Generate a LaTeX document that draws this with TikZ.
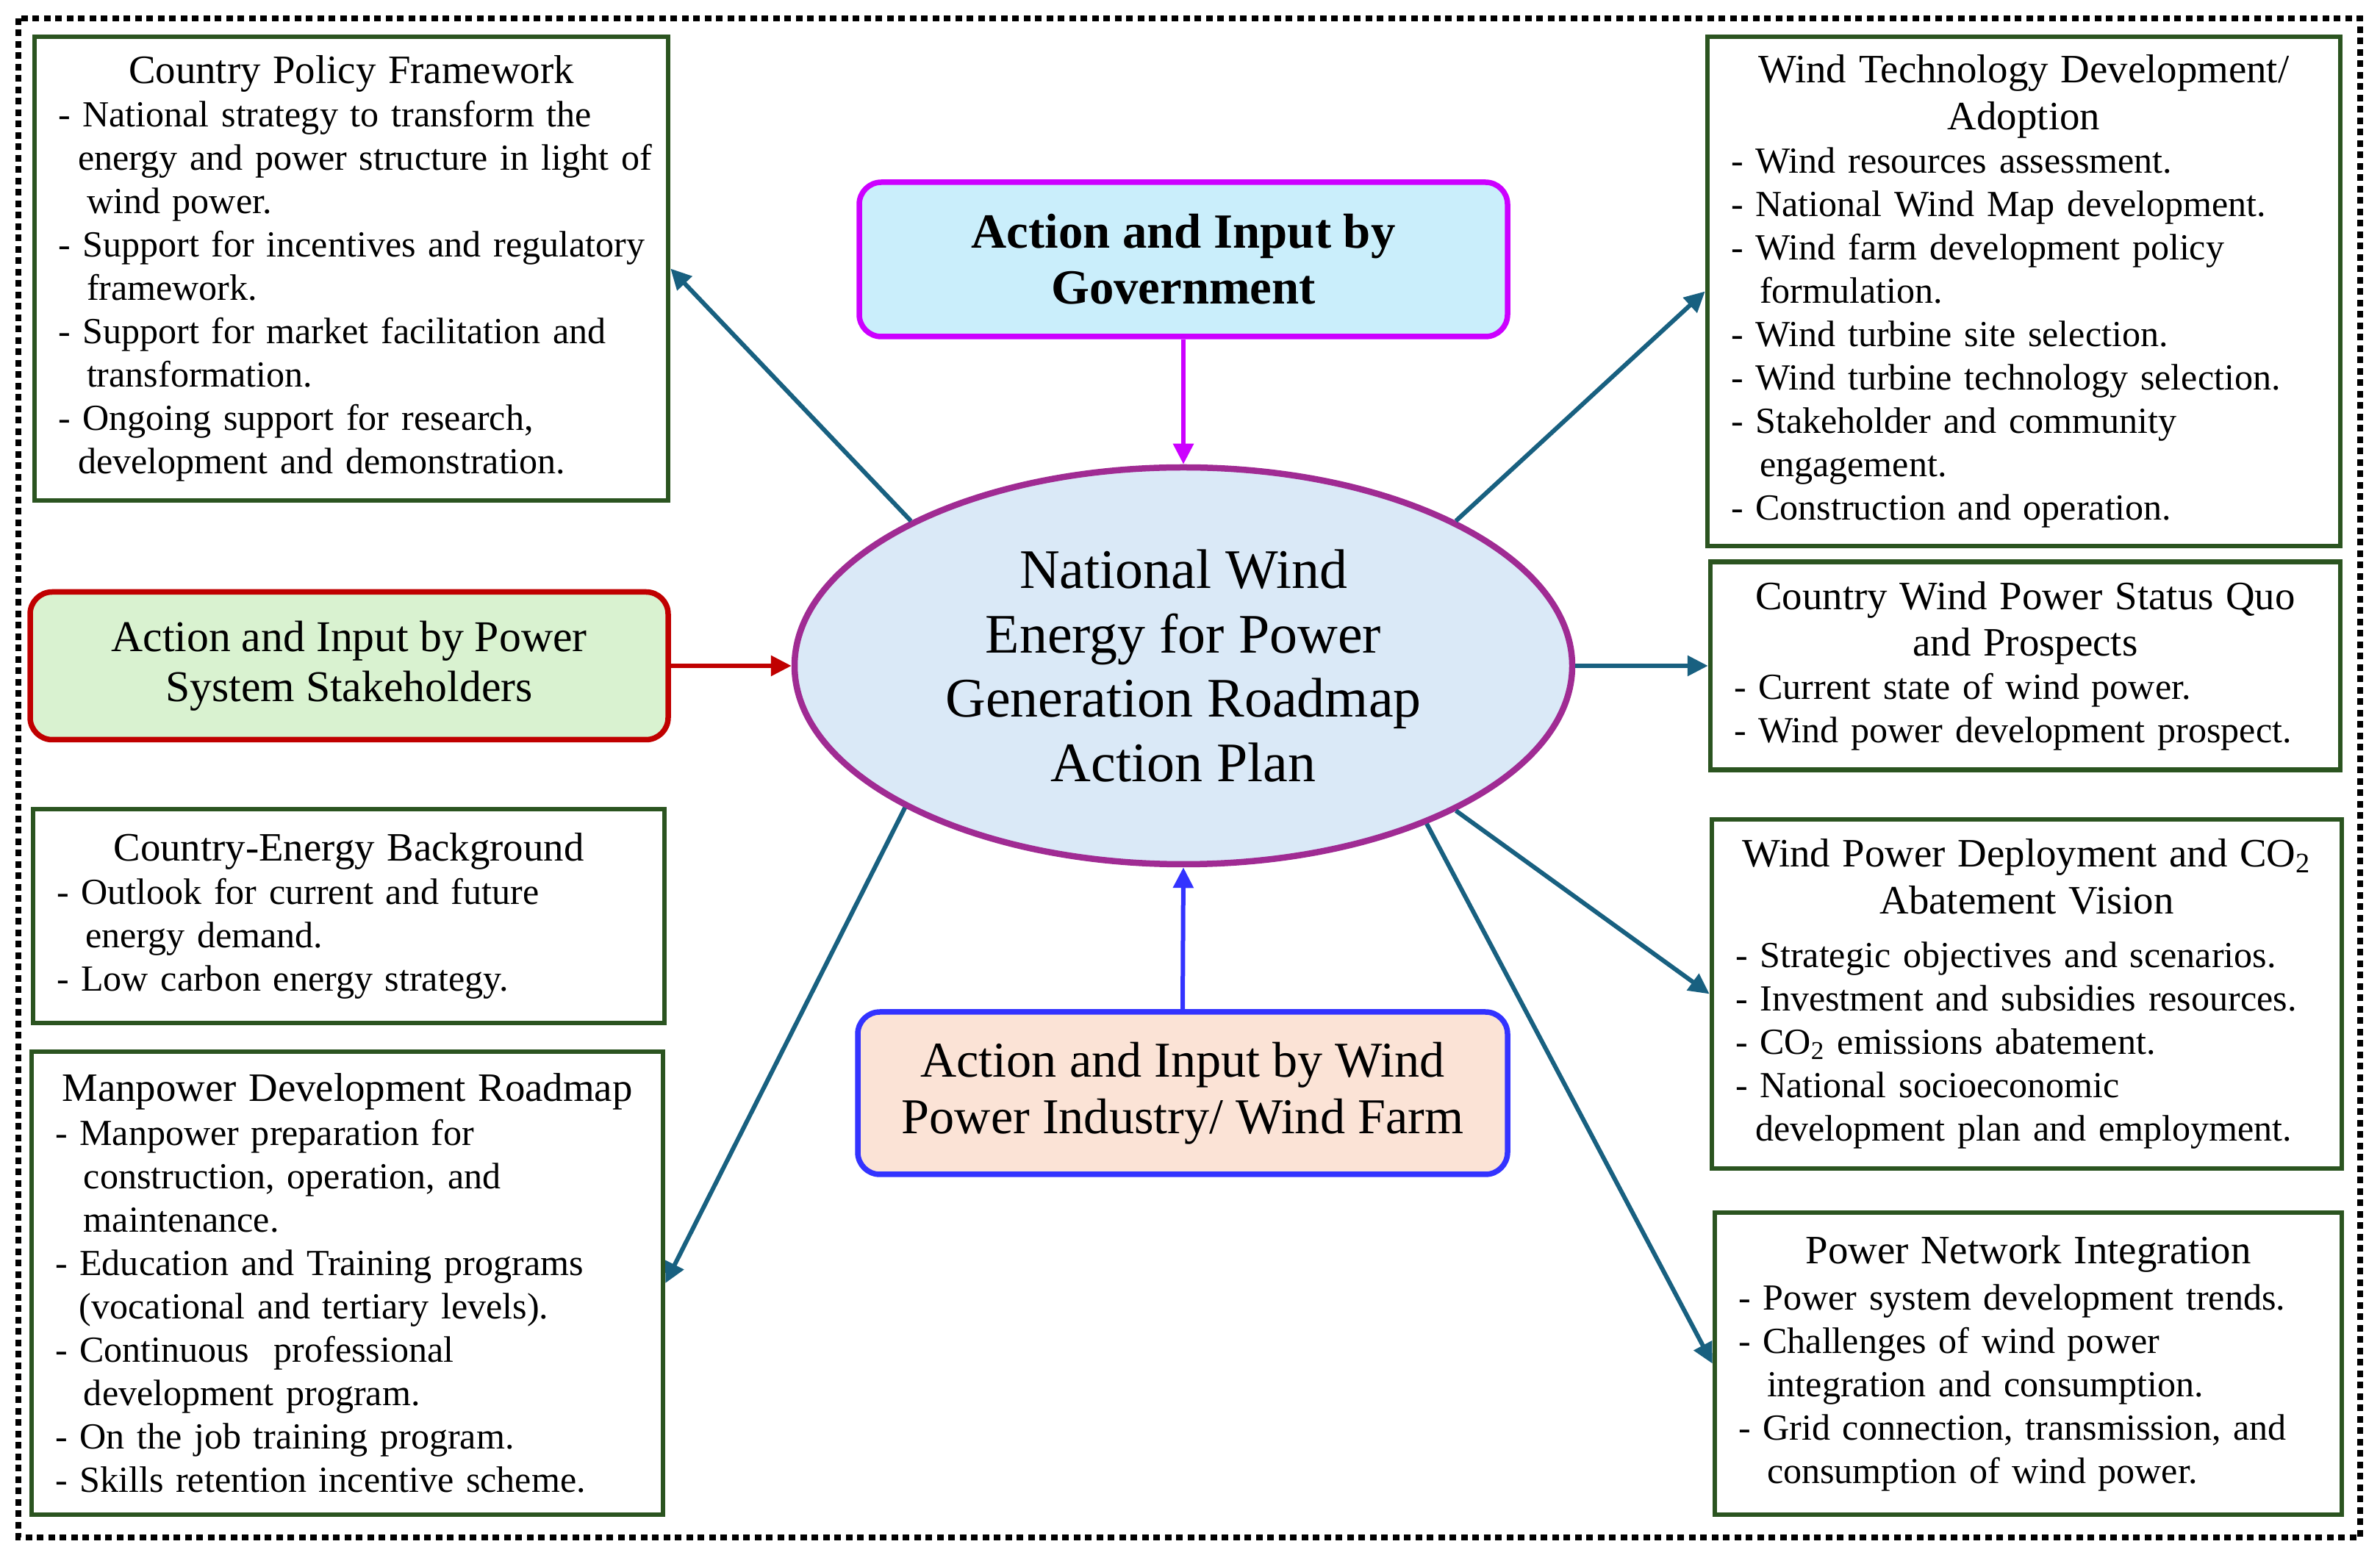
\documentclass[tikz,border=0pt]{standalone}
\usepackage{fontspec}
\setmainfont{Liberation Serif}
\usetikzlibrary{arrows.meta,shapes.geometric}
\setlength{\parindent}{0pt}

\definecolor{boxgreen}{RGB}{43,84,32}
\definecolor{arrteal}{RGB}{24,96,128}
\definecolor{govmag}{RGB}{204,0,255}
\definecolor{govfill}{RGB}{202,238,251}
\definecolor{shred}{RGB}{192,0,0}
\definecolor{shfill}{RGB}{217,242,208}
\definecolor{wiblue}{RGB}{51,51,255}
\definecolor{wifill}{RGB}{251,227,214}
\definecolor{ellpurple}{RGB}{160,43,147}
\definecolor{ellfill}{RGB}{218,233,247}

\newcommand{\ia}{\hspace*{0.27cm}}
\newcommand{\ib}{\hspace*{0.39cm}}
\newcommand{\btitle}[1]{{\centering\fontsize{15.6}{18}\selectfont #1\par}}

\tikzset{
  infobox/.style={draw=boxgreen, line width=0.065cm, fill=white, rectangle,
    inner xsep=0.32cm, inner ysep=0cm, align=left,
    font=\fontsize{14.25}{16.8}\selectfont},
  actbox/.style={rectangle, rounded corners=0.3cm, line width=0.075cm,
    align=center, inner sep=0pt},
  conn/.style={draw=arrteal, line width=0.06cm,
    -{Triangle[length=0.28cm,width=0.27cm]}},
  feed/.style={line width=0.06cm, -{Triangle[length=0.28cm,width=0.27cm]}},
}

\begin{document}
\begin{tikzpicture}
\useasboundingbox (0,0) rectangle (32.38,-21.20);
\fill[white] (0,0) rectangle (32.38,-21.20);

% outer dotted frame
\draw[line width=0.085cm, dash pattern=on 0.09cm off 0.065cm] (0.25,-0.25) rectangle (32.11,-20.92);

% central ellipse
\node[ellipse, draw=ellpurple, fill=ellfill, line width=0.085cm,
  minimum width=10.58cm, minimum height=5.40cm, inner sep=0pt, align=center,
  font=\fontsize{21.6}{25}\selectfont] (ell) at (16.10,-9.06)
  {National Wind\\Energy for Power\\Generation Roadmap\\Action Plan};

% action boxes
\node[actbox, draw=govmag, fill=govfill, minimum width=8.82cm, minimum height=2.10cm,
  font=\bfseries\fontsize{19}{21.7}\selectfont] (gov) at (16.10,-3.53)
  {Action and Input by\\Government};
\node[actbox, draw=shred, fill=shfill, minimum width=8.68cm, minimum height=2.01cm,
  font=\fontsize{17}{19.4}\selectfont] (sh) at (4.75,-9.06)
  {Action and Input by Power\\System Stakeholders};
\node[actbox, draw=wiblue, fill=wifill, minimum width=8.84cm, minimum height=2.21cm,
  font=\fontsize{19.4}{21.9}\selectfont] (wi) at (16.09,-14.875)
  {Action and Input by Wind\\Power Industry/ Wind Farm};

% left info boxes
\node[infobox, minimum width=8.62cm, minimum height=6.31cm, text width=7.98cm] (cpf) at (4.78,-3.655) {%
\btitle{Country Policy Framework}
\mbox{- National strategy to transform the}\\
\mbox{\ia energy and power structure in light of}\\
\mbox{\ib wind power.}\\
\mbox{- Support for incentives and regulatory}\\
\mbox{\ib framework.}\\
\mbox{- Support for market facilitation and}\\
\mbox{\ib transformation.}\\
\mbox{- Ongoing support for research,}\\
\mbox{\ia development and demonstration.}};

\node[infobox, minimum width=8.59cm, minimum height=2.91cm, text width=7.95cm] (ce) at (4.745,-12.465) {%
\btitle{Country-Energy Background}
\mbox{- Outlook for current and future}\\
\mbox{\ib energy demand.}\\
\mbox{- Low carbon energy strategy.}};

\node[infobox, minimum width=8.59cm, minimum height=6.30cm, text width=7.95cm] (mp) at (4.725,-17.46) {%
\btitle{Manpower Development Roadmap}
\mbox{- Manpower preparation for}\\
\mbox{\ib construction, operation, and}\\
\mbox{\ib maintenance.}\\
\mbox{- Education and Training programs}\\
\mbox{\hspace*{0.33cm}(vocational and tertiary levels).}\\
\mbox{- Continuous\ \ professional}\\
\mbox{\ib development program.}\\
\mbox{- On the job training program.}\\
\mbox{- Skills retention incentive scheme.}};

% right info boxes
\node[infobox, minimum width=8.61cm, minimum height=6.93cm, text width=7.97cm] (wt) at (27.535,-3.965) {%
\btitle{Wind Technology Development/\\Adoption}
\mbox{- Wind resources assessment.}\\
\mbox{- National Wind Map development.}\\
\mbox{- Wind farm development policy}\\
\mbox{\ib formulation.}\\
\mbox{- Wind turbine site selection.}\\
\mbox{- Wind turbine technology selection.}\\
\mbox{- Stakeholder and community}\\
\mbox{\ib engagement.}\\
\mbox{- Construction and operation.}};

\node[infobox, minimum width=8.57cm, minimum height=2.83cm, text width=7.93cm] (cs) at (27.555,-9.06) {%
\btitle{Country Wind Power Status Quo\\and Prospects}
\mbox{- Current state of wind power.}\\
\mbox{- Wind power development prospect.}};

\node[infobox, minimum width=8.57cm, minimum height=4.75cm, text width=7.93cm] (wd) at (27.575,-13.525) {%
\btitle{Wind Power Deployment and CO\textsubscript{2}\\Abatement Vision}
\vspace{4pt}
\mbox{- Strategic objectives and scenarios.}\\
\mbox{- Investment and subsidies resources.}\\
\mbox{- CO\textsubscript{2} emissions abatement.}\\
\mbox{- National socioeconomic}\\
\mbox{\ia development plan and employment.}};

\node[infobox, minimum width=8.53cm, minimum height=4.11cm, text width=7.89cm] (pn) at (27.595,-18.555) {%
\btitle{Power Network Integration}
\vspace{1pt}
\mbox{- Power system development trends.}\\
\mbox{- Challenges of wind power}\\
\mbox{\ib integration and consumption.}\\
\mbox{- Grid connection, transmission, and}\\
\mbox{\ib consumption of wind power.}};

% connectors from the roadmap to the info boxes
\draw[conn] (ell.152) -- (cpf.east);
\draw[conn] (ell.28) -- (wt.west);
\draw[conn] (ell.east) -- (cs.west);
\draw[conn] (ell.332.5) -- (wd.west);
\draw[conn] (ell.327) -- (pn.west);
\draw[conn] (ell.207) -- (mp.east);

% inputs into the roadmap
\draw[feed, draw=govmag, fill=govmag] (gov.south) -- (ell.north);
\draw[feed, draw=shred, fill=shred] (sh.east) -- (ell.west);
\draw[feed, draw=wiblue, fill=wiblue] (wi.north) -- (ell.south);
\end{tikzpicture}
\end{document}
